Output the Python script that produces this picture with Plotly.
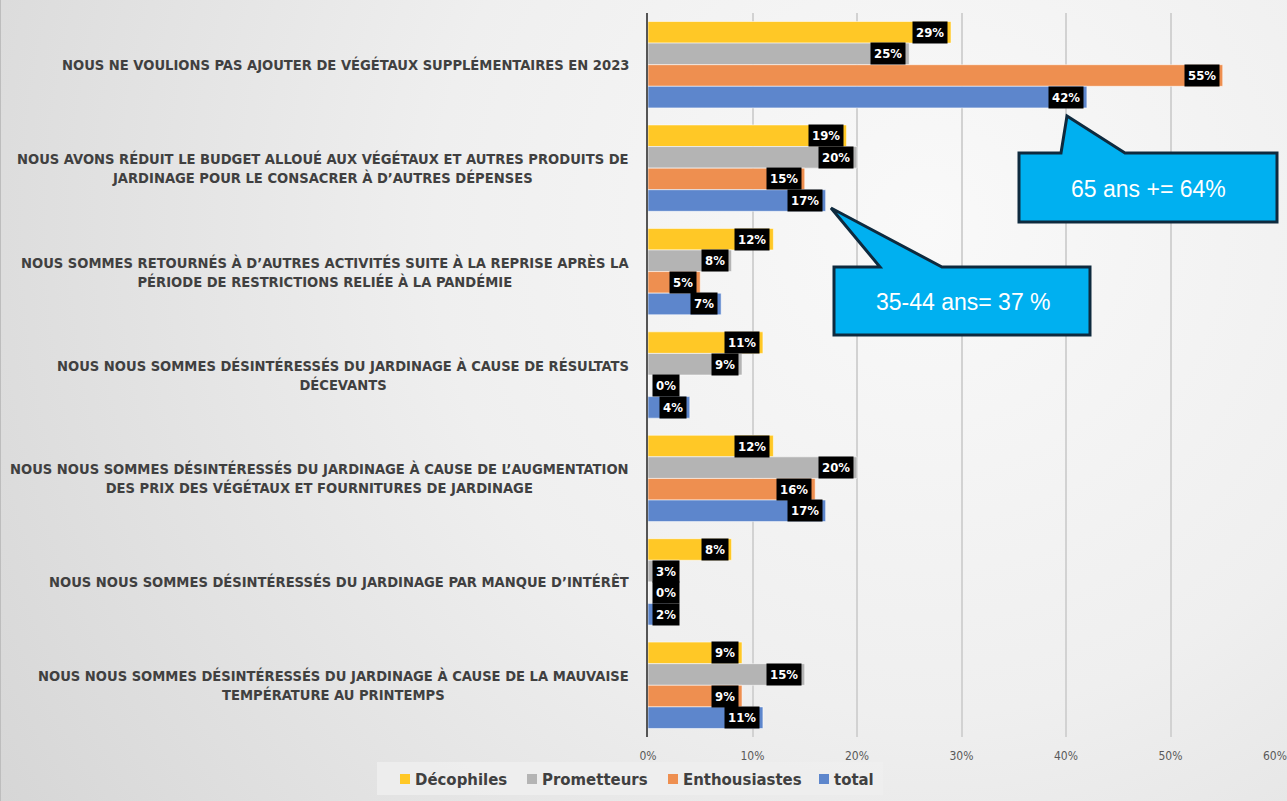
import base64
import plotly.graph_objects as go

# Raisons de la baisse des achats de végétaux, par segment (%)
categories = [
    "NOUS NE VOULIONS PAS AJOUTER DE VÉGÉTAUX SUPPLÉMENTAIRES EN 2023",
    "NOUS AVONS RÉDUIT LE BUDGET ALLOUÉ AUX VÉGÉTAUX ET AUTRES PRODUITS DE<br>JARDINAGE POUR LE CONSACRER À D’AUTRES DÉPENSES",
    "NOUS SOMMES RETOURNÉS À D’AUTRES ACTIVITÉS SUITE À LA REPRISE APRÈS LA<br>PÉRIODE DE RESTRICTIONS RELIÉE À LA PANDÉMIE",
    "NOUS NOUS SOMMES DÉSINTÉRESSÉS DU JARDINAGE À CAUSE DE RÉSULTATS<br>DÉCEVANTS",
    "NOUS NOUS SOMMES DÉSINTÉRESSÉS DU JARDINAGE À CAUSE DE L’AUGMENTATION<br>DES PRIX DES VÉGÉTAUX ET FOURNITURES DE JARDINAGE",
    "NOUS NOUS SOMMES DÉSINTÉRESSÉS DU JARDINAGE PAR MANQUE D’INTÉRÊT",
    "NOUS NOUS SOMMES DÉSINTÉRESSÉS DU JARDINAGE À CAUSE DE LA MAUVAISE<br>TEMPÉRATURE AU PRINTEMPS",
]
series_names = ["Décophiles", "Prometteurs", "Enthousiastes", "total"]
decophiles = [29, 19, 12, 11, 12, 8, 9]
prometteurs = [25, 20, 8, 9, 20, 3, 15]
enthousiastes = [55, 15, 5, 0, 16, 0, 9]
total = [42, 17, 7, 4, 17, 2, 11]
x_ticks = [0, 10, 20, 30, 40, 50, 60]
x_tick_labels = [f"{t}%" for t in x_ticks]
callout_texts = ["65 ans += 64%", "35-44 ans= 37 %"]

series_values = [decophiles, prometteurs, enthousiastes, total]
colors = ["rgb(255,200,38)", "rgb(180,180,180)", "rgb(238,143,80)", "rgb(93,134,204)"]

W, H = 1287, 801
ML, MR, MT, MB = 648, 12, 13, 64
PW, PH = W - ML - MR, H - MT - MB
BARGAP = 0.165

LABEL_FONT = "DejaVu Sans Condensed, DejaVu Sans, sans-serif"


def px(xp):
    return (xp - ML) / PW


def py(yp):
    return (H - MB - yp) / PH


fig = go.Figure()
for name, vals, col in zip(series_names, series_values, colors):
    fig.add_trace(go.Bar(
        y=categories, x=vals, name=name, orientation="h",
        marker=dict(color=col, line=dict(color="rgba(255,255,255,0.55)", width=1)),
        hoverinfo="x+name", showlegend=False,
    ))

annotations = []
shapes = []

# category labels, centred lines, right edge next to the axis
for cat in categories:
    annotations.append(dict(
        x=px(631), xref="paper", xanchor="right", y=cat, yref="y", yanchor="middle",
        text=cat, showarrow=False, align="center",
        font=dict(family=LABEL_FONT, size=14.6, color="#404040", weight="bold"),
    ))

# value labels in black boxes at the end of each bar
n = len(series_names)
bw = (1 - BARGAP) / n
for i, vals in enumerate(series_values):
    for j, v in enumerate(vals):
        ypos = j - (1 - BARGAP) / 2 + bw * (i + 0.5)
        if v >= 4:
            ax = dict(x=v, xanchor="right", xshift=-3)
        else:
            ax = dict(x=0, xanchor="left", xshift=4)
        annotations.append(dict(
            **ax, xref="x", y=ypos, yref="y", yanchor="middle",
            text=f"{v}%", showarrow=False, bgcolor="black", borderpad=3,
            font=dict(family=LABEL_FONT, size=13, color="white", weight="bold"),
        ))

# callout boxes
callout_paths = [
    [(1019, 153), (1061, 153), (1067, 116), (1125, 153), (1277, 153), (1277, 222), (1019, 222)],
    [(834, 267), (880, 267), (831, 208), (942, 267), (1090, 267), (1090, 335), (834, 335)],
]
callout_centers = [(1148, 189), (963, 302)]
for pts, (cx, cy), txt in zip(callout_paths, callout_centers, callout_texts):
    path = "M " + " L ".join(f"{px(a):.5f},{py(b):.5f}" for a, b in pts) + " Z"
    shapes.append(dict(type="path", path=path, xref="paper", yref="paper",
                       fillcolor="#00B0F0", line=dict(color="#0E2A3E", width=3), layer="above"))
    annotations.append(dict(
        x=px(cx), y=py(cy), xref="paper", yref="paper", xanchor="center", yanchor="middle",
        text=txt, showarrow=False,
        font=dict(family="Liberation Sans, Arial, sans-serif", size=23, color="white"),
    ))

# legend strip under the axis
shapes.append(dict(type="rect", xref="paper", yref="paper",
                   x0=px(377), x1=px(883), y0=py(762), y1=py(795),
                   fillcolor="rgba(238,238,238,0.85)", line=dict(width=0), layer="below"))
legend_square_x = [400, 527, 668, 819]
legend_y = 779
for name, col, sx in zip(series_names, colors, legend_square_x):
    shapes.append(dict(type="rect", xref="paper", yref="paper",
                       x0=px(sx), x1=px(sx + 10), y0=py(legend_y + 5), y1=py(legend_y - 5),
                       fillcolor=col, line=dict(width=0)))
    annotations.append(dict(
        x=px(sx + 13), y=py(legend_y), xref="paper", yref="paper",
        xanchor="left", yanchor="middle", text=name, showarrow=False,
        font=dict(family=LABEL_FONT, size=16.6, color="#404040", weight="bold"),
    ))

# soft slide background
svg = (
    f'<svg xmlns="http://www.w3.org/2000/svg" width="{W}" height="{H}" viewBox="0 0 {W} {H}" preserveAspectRatio="none">'
    '<defs><radialGradient id="g" cx="0.72" cy="0.28" r="0.85" gradientTransform="translate(0.72 0.28) scale(1 1.6) translate(-0.72 -0.28)">'
    '<stop offset="0" stop-color="#f9f9f9"/><stop offset="0.45" stop-color="#efefef"/>'
    '<stop offset="1" stop-color="#d6d6d6"/></radialGradient></defs>'
    f'<rect width="{W}" height="{H}" fill="url(#g)"/>'
    f'<line x1="0.5" y1="0" x2="0.5" y2="{H}" stroke="#bdbdbd" stroke-width="1"/></svg>'
)
bg_src = "data:image/svg+xml;base64," + base64.b64encode(svg.encode()).decode()

fig.update_layout(
    width=W, height=H,
    margin=dict(l=ML, r=MR, t=MT, b=MB, autoexpand=False),
    paper_bgcolor="#e6e6e6", plot_bgcolor="rgba(0,0,0,0)",
    barmode="group", bargap=BARGAP, bargroupgap=0,
    images=[dict(source=bg_src, xref="paper", yref="paper",
                 x=px(0), y=py(0), sizex=W / PW, sizey=H / PH,
                 xanchor="left", yanchor="top", sizing="stretch", layer="below")],
    xaxis=dict(range=[0, 60], tickvals=x_ticks, ticktext=x_tick_labels, automargin=False,
               showgrid=True, gridcolor="#d2d2d2", gridwidth=2, zeroline=False,
               showline=False, ticks="", ticklabelstandoff=10,
               tickfont=dict(family=LABEL_FONT, size=12, color="#595959")),
    yaxis=dict(autorange="reversed", showticklabels=False, showgrid=False, automargin=False,
               showline=True, linecolor="#555555", linewidth=2, ticks="", zeroline=False),
    annotations=annotations,
    shapes=shapes,
    showlegend=False,
)

fig.write_html("out.html")
